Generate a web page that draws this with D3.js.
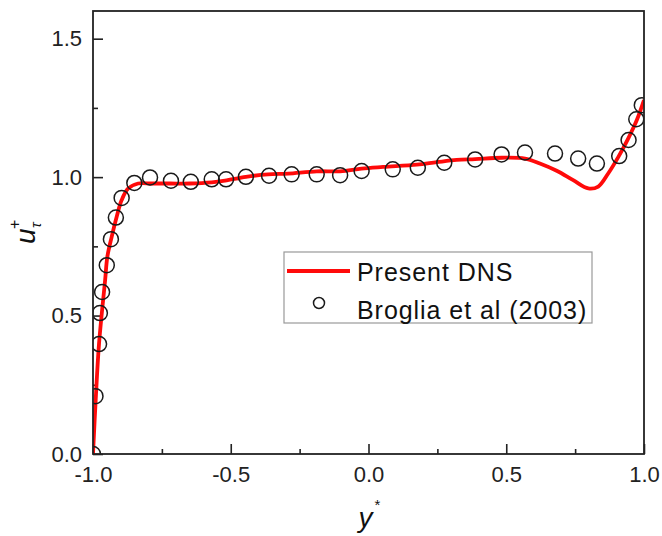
<!DOCTYPE html>
<html>
<head>
<meta charset="utf-8">
<script src="https://cdn.jsdelivr.net/npm/d3@7"></script>
<style>
  body { margin: 0; background: #fff; }
  svg { display: block; font-family: "Liberation Sans", Arial, sans-serif; }
</style>
</head>
<body>
<div id="chart"></div>
<script>
// Present DNS profile (y*, u_tau+)
const dnsX = [-1.0, -0.990, -0.978, -0.956, -0.948, -0.932, -0.914, -0.896, -0.872, -0.836,
  -0.787, -0.720, -0.648, -0.569, -0.521, -0.445, -0.365, -0.292, -0.188, -0.103,
  -0.025, 0.053, 0.175, 0.248, 0.320, 0.387, 0.483, 0.568, 0.622, 0.683,
  0.743, 0.798, 0.834, 0.870, 0.907, 0.943, 0.974, 1.0];
const dnsY = [0.0, 0.20, 0.40, 0.628, 0.712, 0.785, 0.857, 0.917, 0.959, 0.977,
  0.977, 0.977, 0.977, 0.981, 0.987, 1.001, 1.010, 1.013, 1.021, 1.021,
  1.031, 1.037, 1.045, 1.054, 1.062, 1.065, 1.070, 1.067, 1.049, 1.023,
  0.989, 0.959, 0.966, 1.013, 1.073, 1.140, 1.206, 1.278];

// Broglia et al (2003)
const refX = [-1.0, -0.991, -0.978, -0.975, -0.967, -0.950, -0.935, -0.917, -0.896, -0.850,
  -0.793, -0.717, -0.645, -0.569, -0.517, -0.445, -0.361, -0.279, -0.188, -0.103,
  -0.025, 0.088, 0.179, 0.275, 0.387, 0.483, 0.568, 0.677, 0.761, 0.829,
  0.910, 0.944, 0.972, 0.992];
const refY = [0.0, 0.209, 0.397, 0.509, 0.585, 0.682, 0.776, 0.854, 0.925, 0.979,
  0.999, 0.987, 0.983, 0.992, 0.992, 1.001, 1.005, 1.010, 1.010, 1.007,
  1.022, 1.028, 1.034, 1.052, 1.064, 1.082, 1.089, 1.085, 1.067, 1.049,
  1.076, 1.134, 1.209, 1.260];

const xTicks = [-1.0, -0.5, 0.0, 0.5, 1.0];
const yTicks = [0.0, 0.5, 1.0, 1.5];
const xMinor = [-0.75, -0.25, 0.25, 0.75];
const yMinor = [0.25, 0.75, 1.25];

const W = 662, H = 536;
const margin = { left: 93, right: 18, top: 11, bottom: 82 };
const iw = W - margin.left - margin.right;
const ih = H - margin.top - margin.bottom;

const x = d3.scaleLinear().domain([-1, 1]).range([0, iw]);
const y = d3.scaleLinear().domain([0, 1.6]).range([ih, 0]);

// plain hyphen for negatives, like the original
const fmt = d => d3.format(".1f")(d).replace("\u2212", "-");

const svg = d3.select("#chart").append("svg")
  .attr("width", W).attr("height", H);

svg.append("defs").append("clipPath").attr("id", "plot-clip")
  .append("rect").attr("width", iw).attr("height", ih);

const g = svg.append("g").attr("transform", `translate(${margin.left},${margin.top})`);

// axes with inward ticks
const xAxis = g.append("g").attr("transform", `translate(0,${ih})`)
  .call(d3.axisBottom(x).tickValues(xTicks).tickFormat(fmt).tickSizeInner(-10).tickSizeOuter(0));
const xAxisMinor = g.append("g").attr("transform", `translate(0,${ih})`)
  .call(d3.axisBottom(x).tickValues(xMinor).tickFormat("").tickSizeInner(-5).tickSizeOuter(0));
const yAxis = g.append("g")
  .call(d3.axisLeft(y).tickValues(yTicks).tickFormat(fmt).tickSizeInner(-10).tickSizeOuter(0));
const yAxisMinor = g.append("g")
  .call(d3.axisLeft(y).tickValues(yMinor).tickFormat("").tickSizeInner(-5).tickSizeOuter(0));

[xAxis, xAxisMinor, yAxis, yAxisMinor].forEach(a => {
  a.select(".domain").remove();
  a.selectAll("line").attr("stroke", "#222").attr("stroke-width", 1.6);
  a.selectAll("text").attr("fill", "#222").style("font-size", "22px")
    .style("font-family", "'Liberation Sans', Arial, sans-serif");
});
xAxis.selectAll("text").attr("y", 12).attr("dy", "0.71em");
yAxis.selectAll("text").attr("x", -11);

const dns = dnsX.map((d, i) => ({ x: d, y: dnsY[i] }));
const ref = refX.map((d, i) => ({ x: d, y: refY[i] }));

const plot = g.append("g").attr("clip-path", "url(#plot-clip)");

plot.append("path")
  .datum(dns)
  .attr("fill", "none")
  .attr("stroke", "#ff0a0a")
  .attr("stroke-width", 3.8)
  .attr("stroke-linejoin", "round")
  .attr("d", d3.line().x(d => x(d.x)).y(d => y(d.y)).curve(d3.curveCatmullRom.alpha(0.5)));

plot.selectAll("circle.ref")
  .data(ref)
  .enter()
  .append("circle")
    .classed("ref", true)
    .attr("cx", d => x(d.x))
    .attr("cy", d => y(d.y))
    .attr("r", 7.5)
    .attr("fill", "none")
    .attr("stroke", "#1a1a1a")
    .attr("stroke-width", 1.5);

// frame
g.append("rect")
  .attr("width", iw).attr("height", ih)
  .attr("fill", "none").attr("stroke", "#222").attr("stroke-width", 1.8);

// legend
const legend = svg.append("g").attr("transform", "translate(284,252)");
legend.append("rect")
  .attr("width", 308).attr("height", 71)
  .attr("fill", "#fff").attr("stroke", "#999").attr("stroke-width", 1.2);
legend.append("line")
  .attr("x1", 3).attr("x2", 66).attr("y1", 19).attr("y2", 19)
  .attr("stroke", "#ff0a0a").attr("stroke-width", 3.8);
legend.append("circle")
  .attr("cx", 35).attr("cy", 51).attr("r", 5.5)
  .attr("fill", "none").attr("stroke", "#1a1a1a").attr("stroke-width", 1.5);
legend.selectAll("text.lbl")
  .data(["Present DNS", "Broglia et al (2003)"])
  .enter()
  .append("text")
    .classed("lbl", true)
    .attr("x", 73)
    .attr("y", (d, i) => 29 + i * 37.5)
    .attr("fill", "#111")
    .style("font-size", "25px")
    .style("letter-spacing", "0.95px")
    .text(d => d);

// axis titles
const xTitle = svg.append("text")
  .attr("x", margin.left + x(0) - 10).attr("y", 527)
  .attr("fill", "#111");
xTitle.append("tspan").style("font-size", "28px").style("font-style", "italic").text("y");
xTitle.append("tspan").style("font-size", "15px").attr("dx", 2).attr("dy", -17).text("*");

const yTitle = svg.append("g").attr("transform", "translate(35,244) rotate(-90)");
yTitle.append("text")
  .attr("x", 0).attr("y", 0).attr("fill", "#111")
  .style("font-size", "28px").style("font-style", "italic").text("u");
yTitle.append("text")
  .attr("x", 16).attr("y", 6).attr("fill", "#111")
  .style("font-size", "15px").style("font-style", "italic").text("τ");
yTitle.append("text")
  .attr("x", 15).attr("y", -15).attr("fill", "#111")
  .style("font-size", "16px").text("+");
</script>
</body>
</html>
